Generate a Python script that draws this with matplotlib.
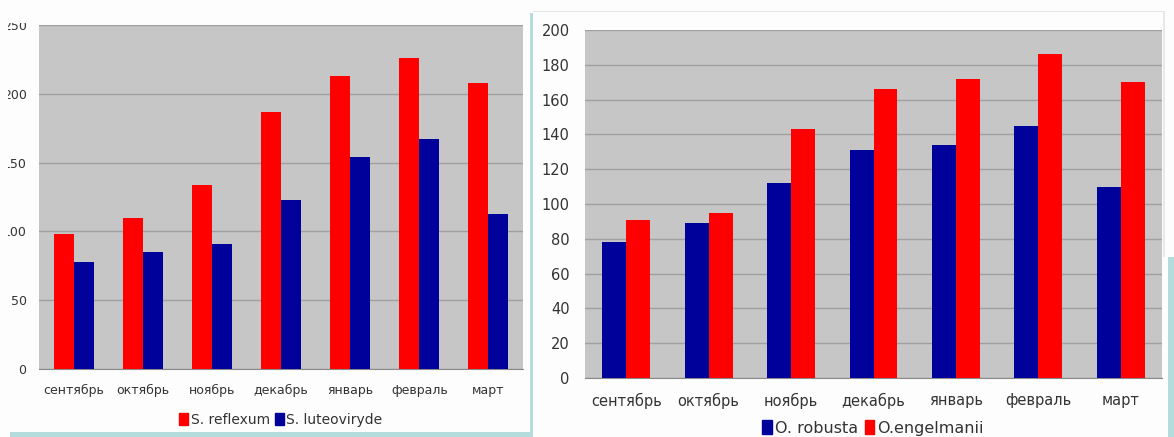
import matplotlib
matplotlib.use("Agg")
import matplotlib.pyplot as plt
from matplotlib.patches import Patch, Rectangle
import numpy as np

months = ["сентябрь", "октябрь", "ноябрь", "декабрь", "январь", "февраль", "март"]

# left chart: Sedum species
s_reflexum = [98, 110, 134, 187, 213, 226, 208]
s_luteoviryde = [78, 85, 91, 123, 154, 167, 113]
left_ticks = [0, 50, 100, 150, 200, 250]

# right chart: Orostachys species
o_robusta = [78, 89, 112, 131, 134, 145, 110]
o_engelmanii = [91, 95, 143, 166, 172, 186, 170]
right_ticks = [0, 20, 40, 60, 80, 100, 120, 140, 160, 180, 200]

RED = "#ff0000"
BLUE = "#00009a"
PLOT_BG = "#c6c6c6"
GRID = "#a0a0a0"
TEAL = "#b4dcdd"
TXT = "#333333"

W, H = 1174, 437
fig = plt.figure(figsize=(W / 100, H / 100), dpi=100)
fig.patch.set_facecolor("#fdfdfd")


def px_rect(x0, y0, x1, y1):
    return [x0 / W, 1 - y1 / H, (x1 - x0) / W, (y1 - y0) / H]


def bar_panel(ax, first, second, colors, ticks, fs, xpad, ypad):
    x = np.arange(len(months))
    w = 0.29
    ax.bar(x - w / 2, first, w, color=colors[0], zorder=3)
    ax.bar(x + w / 2, second, w, color=colors[1], zorder=3)
    ax.set_xlim(-0.5, len(months) - 0.5)
    ax.set_ylim(ticks[0], ticks[-1])
    ax.set_yticks(ticks)
    ax.set_xticks(x)
    ax.set_xticklabels(months)
    ax.set_facecolor(PLOT_BG)
    ax.yaxis.grid(True, color=GRID, linewidth=1.0, zorder=0)
    ax.set_axisbelow(True)
    for side in ("left", "right", "top"):
        ax.spines[side].set_visible(False)
    ax.spines["bottom"].set_color("#8a8a8a")
    ax.tick_params(axis="both", length=0, labelsize=fs, labelcolor=TXT)
    ax.tick_params(axis="x", pad=xpad)
    ax.tick_params(axis="y", pad=ypad)


axL = fig.add_axes(px_rect(39, 25, 523, 369))
bar_panel(axL, s_reflexum, s_luteoviryde, (RED, BLUE), left_ticks, 9, 11, 9)
axR = fig.add_axes(px_rect(585, 30, 1162, 378))
bar_panel(axR, o_robusta, o_engelmanii, (BLUE, RED), right_ticks, 10.5, 11, 11)

legL = [Patch(color=RED, label="S. reflexum"), Patch(color=BLUE, label="S. luteoviryde")]
fig.legend(handles=legL, loc="center", bbox_to_anchor=(281 / W, 1 - 420 / H),
           ncol=2, frameon=False, fontsize=10, handlelength=0.6, handleheight=0.9,
           handletextpad=0.2, columnspacing=0.4, labelcolor=TXT)
legR = [Patch(color=BLUE, label="O. robusta"), Patch(color=RED, label="O.engelmanii")]
fig.legend(handles=legR, loc="center", bbox_to_anchor=(873 / W, 1 - 428 / H),
           ncol=2, frameon=False, fontsize=11.5, handlelength=0.6, handleheight=0.9,
           handletextpad=0.2, columnspacing=0.4, labelcolor=TXT)

# page frame pieces around the two panels
def frame(x0, y0, x1, y1, color):
    fig.patches.append(Rectangle((x0 / W, 1 - y1 / H), (x1 - x0) / W, (y1 - y0) / H,
                                 transform=fig.transFigure, facecolor=color,
                                 edgecolor="none", zorder=10))

frame(0, 0, 528, 23, "#fdfdfd")        # white strip above left panel
frame(0, 0, 8, 437, "#fdfdfd")         # left margin
frame(10, 432, 533, 437, TEAL)         # bottom band under left panel
frame(530, 13, 533, 437, TEAL)         # divider between panels
frame(533, 11, 1165, 12, "#e4e4e4")    # faint top edge of right panel
frame(1163, 11, 1165, 257, "#e8e8e8")
frame(1168, 257, 1174, 437, TEAL)      # right edge band

fig.savefig("out.png", dpi=100, facecolor=fig.get_facecolor())
